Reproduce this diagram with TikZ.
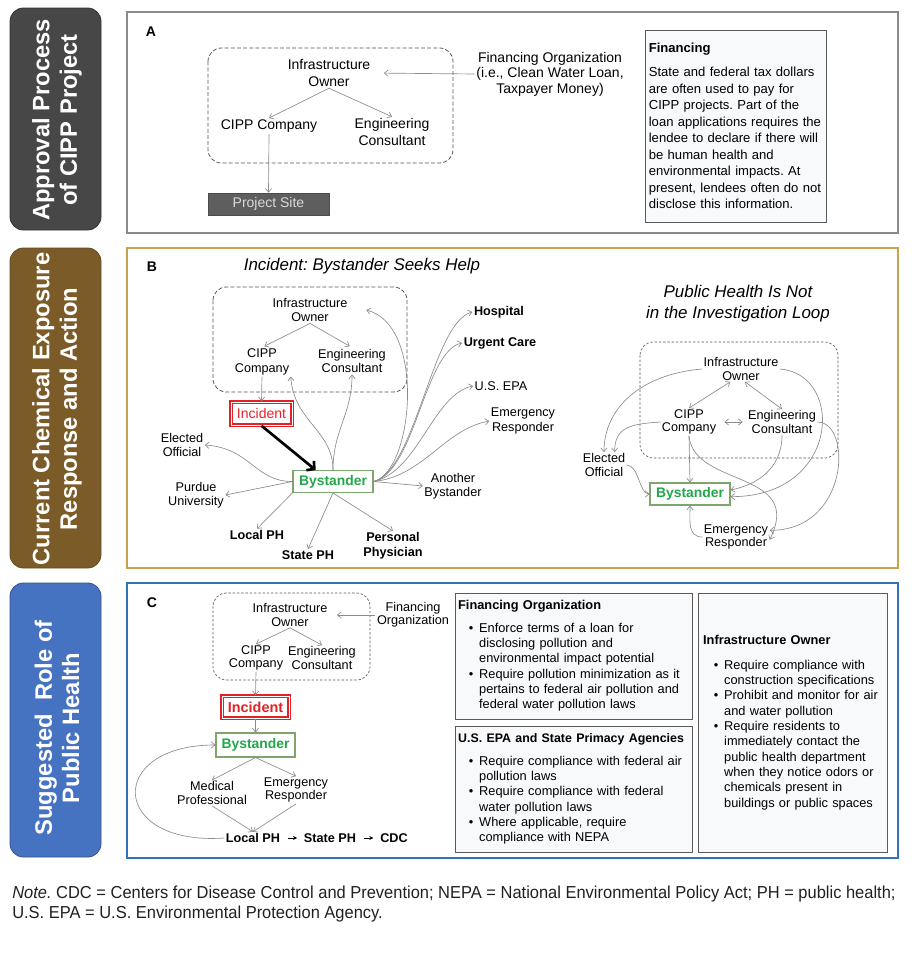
\documentclass[tikz,border=0pt]{standalone}
\usepackage{fontspec}
\setmainfont{Liberation Sans}
\setsansfont{Liberation Sans}
\newfontfamily\notefont[FakeStretch=0.95]{Liberation Sans}
\usetikzlibrary{arrows.meta}
\frenchspacing
\hyphenpenalty=10000

\definecolor{sidegray}{HTML}{474747}
\definecolor{sidebrown}{HTML}{7B5C28}
\definecolor{sideblue}{HTML}{4672C2}
\definecolor{framegray}{HTML}{8A8A8A}
\definecolor{framegold}{HTML}{C9A24D}
\definecolor{frameblue}{HTML}{2E75B6}
\definecolor{linegray}{HTML}{8C8C8C}
\definecolor{dashgray}{HTML}{555555}
\definecolor{incred}{HTML}{E32228}
\definecolor{bysgreen}{HTML}{22A84A}
\definecolor{bysline}{HTML}{7EA56B}
\definecolor{sitegray}{HTML}{5E5E5E}
\definecolor{boxfill}{HTML}{F8F9FB}
\definecolor{boxline}{HTML}{5A5A5A}
\definecolor{notetext}{HTML}{231F20}

\newcommand{\bl}[1]{\makebox[15.75pt][l]{\hspace*{8pt}\textbullet}#1}
\newcommand{\cl}[1]{\hspace*{15.75pt}#1}

\tikzset{
  sidebox/.style={rounded corners=10pt, line width=0.6pt},
  sidetxt/.style={rotate=90, align=center, text=white, font=\fontsize{17.8}{20.5}\selectfont\bfseries},
  frame/.style={line width=1.6pt},
  letter/.style={font=\fontsize{10.5}{12}\selectfont\bfseries, inner sep=1pt},
  grp/.style={draw=dashgray, dash pattern=on 3pt off 1.6pt, line width=0.6pt, rounded corners=10pt},
  grpfine/.style={draw=dashgray, dash pattern=on 1.8pt off 1.4pt, line width=0.5pt, rounded corners=10pt},
  ttl/.style={align=center, font=\fontsize{12.7}{15.8}\selectfont\itshape, inner sep=1pt},
  ta/.style={align=center, font=\fontsize{10.5}{12.8}\selectfont, inner sep=1pt},
  tb/.style={align=center, font=\fontsize{9.5}{10.8}\selectfont, inner sep=1pt},
  tbb/.style={align=center, font=\fontsize{9.5}{11.2}\selectfont\bfseries, inner sep=1pt},
  tc/.style={align=center, font=\fontsize{9.5}{9.9}\selectfont, inner sep=1pt},
  conn/.style={draw=linegray, line width=0.5pt},
  bigarrow/.style={line width=2pt, -{Straight Barb[length=4pt,width=9pt]}},
  smallarrow/.style={line width=0.6pt, -{Stealth[length=3pt,width=3pt]}},
  incident/.style={draw=incred, double=white, double distance=0.4pt, line width=1.1pt, text=incred, fill=white},
  bystander/.style={draw=bysline, line width=0.8pt, text=bysgreen, font=\fontsize{10.4}{12}\selectfont\bfseries, fill=white},
  sitebox/.style={fill=sitegray, draw=black!70, text=white!85!black, font=\fontsize{10.5}{12}\selectfont, minimum width=90.75pt, minimum height=16.5pt},
  infobox/.style={draw=boxline, fill=boxfill, line width=0.7pt, align=left, inner sep=0pt},
}

\begin{document}
\begin{tikzpicture}[x=0.75pt,y=-0.75pt,>={Straight Barb[length=2.8pt,width=4.6pt]}]
\useasboundingbox (0,0) rectangle (916,953);

\draw[sidebox, fill=sidegray, draw=black!80] (10,8) rectangle (101,230);
\node[sidetxt] (sideA) at (57,120) {Approval Process\\of CIPP Project};
\draw[sidebox, fill=sidebrown, draw=sidebrown!80!black] (10,248) rectangle (101,568);
\node[sidetxt] (sideB) at (57,409) {Current Chemical Exposure\\Response and Action};
\draw[sidebox, fill=sideblue, draw=sideblue!70!black] (10,583) rectangle (101,857);
\node[sidetxt] (sideC) at (57,728) {Suggested\ \ Role of\\Public Health};

\draw[frame, draw=framegray] (127,12) rectangle (898,233);
\node[letter] (letA) at (151,32) {A};
\draw[grp] (208,48) rectangle (453,163);
\node[ta] (aown) at (329,73) {Infrastructure\\Owner};
\node[ta] (acipp) at (269,126) {CIPP Company};
\node[ta] (aeng) at (392,132) {Engineering\\Consultant};
\node[ta, font=\fontsize{10.5}{11.6}\selectfont] (afin) at (550,74) {Financing Organization\\(i.e., Clean Water Loan,\\Taxpayer Money)};
\node[sitebox] (asite) at (268.5,204) {Project Site};
\node[infobox, minimum width=135.75pt, minimum height=144pt, text width=130pt, font=\fontsize{9.8}{12.4}\selectfont] (afbox) at (735.5,126) {\textbf{Financing}\\[5.6pt]State and federal tax dollars\\are often used to pay for\\CIPP projects. Part of the\\loan applications requires the\\lendee to declare if there will\\be human health and\\environmental impacts. At\\present, lendees often do not\\disclose this information.};
\draw[conn,->] (aown.south) -- (acipp.north);
\draw[conn,->] (aown.south) -- (aeng.north);
\draw[conn,->,shorten >=9pt] (afin.west) -- (aown.east);
\draw[conn,->] (acipp.south) -- (asite.north);

\draw[frame, draw=framegold, line width=1.9pt] (127,248) rectangle (898,568);
\node[letter] (letB) at (152,267) {B};
\node[ttl] (bttl) at (362,266) {Incident: Bystander Seeks Help};
\draw[grp] (213,287) rectangle (407,392);
\node[tb] (bown) at (310,310) {Infrastructure\\Owner};
\node[tb] (bcipp) at (262,362) {CIPP\\Company};
\node[tb] (beng) at (352,361) {Engineering\\Consultant};
\node[incident, font=\fontsize{10.5}{12}\selectfont, minimum width=45.75pt, minimum height=17.25pt] (binc) at (261.5,413.5) {Incident};
\node[bystander, minimum width=60pt, minimum height=15.75pt] (bbys) at (333,481.5) {Bystander};
\node[tbb] (bhosp) at (499,312) {Hospital};
\node[tbb] (burg) at (500,343) {Urgent Care};
\node[tb] (bepa) at (501,386) {U.S. EPA};
\node[tb] (bemr) at (523,421) {Emergency\\Responder};
\node[tb] (bano) at (453,486) {Another\\Bystander};
\node[tb] (beo) at (182,445) {Elected\\Official};
\node[tb] (bpur) at (196,495) {Purdue\\University};
\node[tbb] (blph) at (257,535) {Local PH};
\node[tbb] (bsph) at (308,555) {State PH};
\node[tbb] (bpp) at (393,546) {Personal\\Physician};
\draw[conn,->,shorten >=2pt] (bown.south) -- (bcipp.north);
\draw[conn,->,shorten >=2pt] (bown.south) -- (beng.north);
\draw[conn,->] (bcipp.south) -- (binc.north);
\draw[bigarrow] (binc.south) -- ([xshift=-13pt]bbys.north);
\draw[conn,->] (bbys.north) .. controls +(0,-40) and +(3,45) .. (bcipp.south east);
\draw[conn,->] (bbys.north) .. controls +(0,-40) and +(0,40) .. (beng.south);
\draw[conn,->] (bbys.east) .. controls +(40,-10) and +(60,15) .. ([xshift=13pt]bown.east);
\draw[conn,->] (bbys.east) .. controls +(42,-10) and +(-40,10) .. (bhosp.west);
\draw[conn,->] (bbys.east) .. controls +(42,-10) and +(-38,8) .. (burg.west);
\draw[conn,->] (bbys.east) .. controls +(45,-10) and +(-40,8) .. (bepa.west);
\draw[conn,->] (bbys.east) .. controls +(50,-5) and +(-45,8) .. (bemr.west);
\draw[conn,->] (bbys.east) -- (bano.west);
\draw[conn,->] (bbys.west) .. controls +(-38,0) and +(46,3) .. (beo.east);
\draw[conn,->] (bbys.west) -- (bpur.east);
\draw[conn,->] (bbys.south west) -- (blph.north);
\draw[conn,->] (bbys.south) -- (bsph.north);
\draw[conn,->] (bbys.south) -- (bpp.north);

\node[ttl, font=\fontsize{12.7}{15.75}\selectfont\itshape] (rttl) at (738,304) {Public Health Is Not\\in the Investigation Loop};
\draw[grpfine] (640,342) rectangle (838,458);
\node[tc] (rown) at (741,369) {Infrastructure\\Owner};
\node[tc] (rcipp) at (689,422) {CIPP\\Company};
\node[tc] (reng) at (782,422) {Engineering\\Consultant};
\node[tc] (reo) at (604,465) {Elected\\Official};
\node[bystander, minimum width=60pt, minimum height=16.5pt] (rbys) at (690,494) {Bystander};
\node[tc] (rer) at (736,537) {Emergency\\Responder};
\draw[conn,<->] ([xshift=-8pt]rown.south) -- (rcipp.north);
\draw[conn,<->] ([xshift=3pt]rown.south) -- (reng.north);
\draw[conn,<->,shorten <=5pt,shorten >=3pt] (rcipp.east) -- (reng.west);
\draw[conn,->] (rown.west) .. controls +(-60,5) and +(0,-45) .. (reo.north);
\draw[conn,->] (rcipp.west) .. controls +(-30,2) and +(0,-25) .. ([xshift=8pt]reo.north);
\draw[conn,->] (reo.east) .. controls +(12,0) and +(-10,0) .. (rbys.west);
\draw[conn,->] (rcipp.south) -- (rbys.north);
\draw[conn,->] (reng.south) .. controls +(0,35) and +(25,-5) .. ([yshift=3pt]rbys.east);
\draw[conn,->] (rown.east) .. controls +(65,5) and +(110,0) .. ([yshift=-2pt]rbys.east);
\draw[conn,->] (rcipp.south) .. controls +(5,52) and +(35,-70) .. ([yshift=-2pt]rer.east);
\draw[conn,->] (reng.east) .. controls +(35,0) and +(80,0) .. ([yshift=5pt]rer.east);
\draw[conn,->] (rer.west) .. controls +(-15,0) and +(0,15) .. (rbys.south);

\draw[frame, draw=frameblue] (127,583) rectangle (898,858);
\node[letter] (letC) at (152,603) {C};
\draw[grpfine] (213,593) rectangle (370,680);
\node[tc] (cown) at (290,615) {Infrastructure\\Owner};
\node[tc] (ccipp) at (256,658) {CIPP\\Company};
\node[tc] (ceng) at (322,658) {Engineering\\Consultant};
\node[tc] (cfin) at (413,615) {Financing\\Organization};
\node[incident, font=\fontsize{10.8}{12}\selectfont\bfseries, minimum width=50.25pt, minimum height=16.5pt] (cinc) at (255.5,707) {Incident};
\node[bystander, minimum width=59.25pt, minimum height=18pt] (cbys) at (255.5,745) {Bystander};
\node[tc] (cmed) at (212,793) {Medical\\Professional};
\node[tc] (cer) at (296,790) {Emergency\\Responder};
\node[tbb] (clph) at (253,838) {Local PH};
\node[tbb] (csph) at (330,838) {State PH};
\node[tbb] (ccdc) at (394,838) {CDC};
\draw[conn,->,shorten >=6pt] (cfin.west) -- (cown.east);
\draw[conn,->] (cown.south) -- (ccipp.north);
\draw[conn,->] (cown.south) -- (ceng.north);
\draw[conn,->] (ccipp.south) -- (cinc.north);
\draw[conn,->] (cinc.south) -- (cbys.north);
\draw[conn,->] (cbys.south) -- (cmed.north);
\draw[conn,->] (cbys.south) -- (cer.north);
\draw[conn,->] (cmed.south) -- (clph.north);
\draw[conn,->] (cer.south) -- (clph.north);
\draw[smallarrow,shorten <=5pt,shorten >=4pt] (clph.east) -- (csph.west);
\draw[smallarrow,shorten <=5pt,shorten >=4pt] (csph.east) -- (ccdc.west);
\draw[conn,->] (clph.west) .. controls +(-115,8) and +(-110,0) .. (cbys.west);
\node[infobox, minimum width=177.75pt, minimum height=94.5pt, text width=173pt, font=\fontsize{9.6}{11.5}\selectfont] (cfbox) at (573.5,656) {\textbf{Financing Organization}\\[5.5pt]\bl{Enforce terms of a loan for}\\\cl{disclosing pollution and}\\\cl{environmental impact potential}\\\bl{Require pollution minimization as it}\\\cl{pertains to federal air pollution and}\\\cl{federal water pollution laws}};
\node[infobox, minimum width=177.75pt, minimum height=94.5pt, text width=173pt, font=\fontsize{9.6}{11.5}\selectfont] (cebox) at (573.5,789) {{\fontsize{9.3}{11.5}\selectfont\bfseries U.S. EPA and State Primacy Agencies}\\[5.5pt]\bl{Require compliance with federal air}\\\cl{pollution laws}\\\bl{Require compliance with federal}\\\cl{water pollution laws}\\\bl{Where applicable, require}\\\cl{compliance with NEPA}};
\node[infobox, minimum width=141.75pt, minimum height=194.25pt, text width=134pt, font=\fontsize{9.6}{11.5}\selectfont] (cobox) at (792.5,722.5) {\textbf{Infrastructure Owner}\\[7pt]\bl{Require compliance with}\\\cl{construction specifications}\\\bl{Prohibit and monitor for air}\\\cl{and water pollution}\\\bl{Require residents to}\\\cl{immediately contact the}\\\cl{public health department}\\\cl{when they notice odors or}\\\cl{chemicals present in}\\\cl{buildings or public spaces}};

\node[anchor=base west, inner sep=0pt, text=notetext, font=\notefont\fontsize{13}{15}\selectfont] (note1) at (12,898) {\textit{Note.} CDC = Centers for Disease Control and Prevention; NEPA = National Environmental Policy Act; PH = public health;};
\node[anchor=base west, inner sep=0pt, text=notetext, font=\notefont\fontsize{13}{15}\selectfont] (note2) at (12,918) {U.S. EPA = U.S. Environmental Protection Agency.};
\end{tikzpicture}
\end{document}
